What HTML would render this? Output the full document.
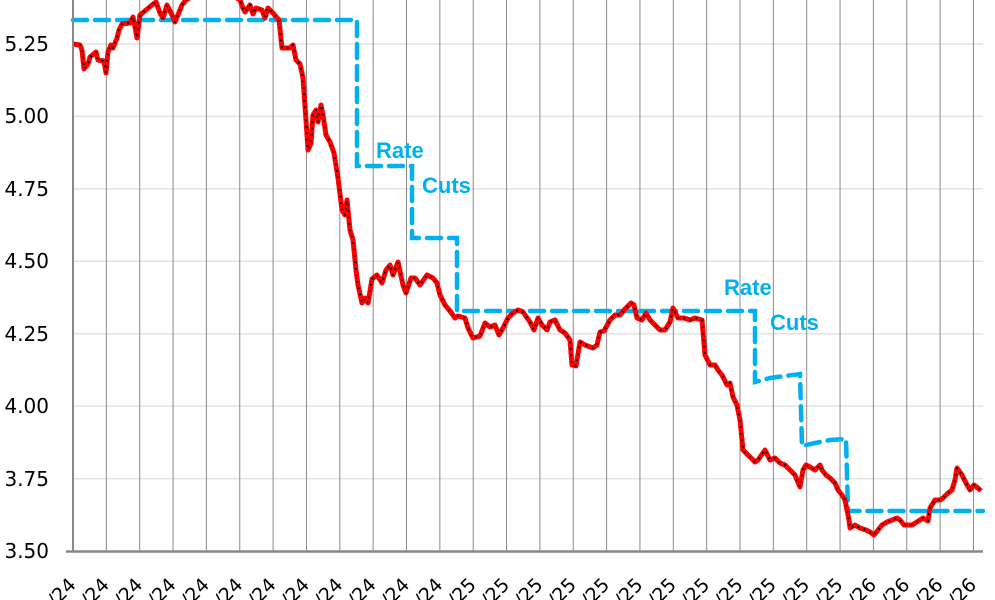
<!DOCTYPE html>
<html><head><meta charset="utf-8"><style>
html,body{margin:0;padding:0;background:#fff;width:995px;height:600px;overflow:hidden;}
svg{display:block;overflow:hidden;font-family:"DejaVu Sans","Liberation Sans",sans-serif;}
</style></head><body>
<svg width="995" height="600" viewBox="0 0 995 600" xmlns="http://www.w3.org/2000/svg">
<defs><clipPath id="cp"><rect x="0" y="0" width="995" height="600"/></clipPath></defs>
<g stroke="#e3e3e3" stroke-width="1.5">
<line x1="73" y1="44" x2="983" y2="44"/><line x1="73" y1="116.4" x2="983" y2="116.4"/><line x1="73" y1="188.9" x2="983" y2="188.9"/><line x1="73" y1="261.3" x2="983" y2="261.3"/><line x1="73" y1="333.7" x2="983" y2="333.7"/><line x1="73" y1="406.1" x2="983" y2="406.1"/><line x1="73" y1="478.6" x2="983" y2="478.6"/>
</g>
<g stroke="#8a8a8a" stroke-width="1" id="vg"></g>
<g font-size="20" fill="#000" text-anchor="end">
<text x="49" y="51">5.25</text><text x="49" y="123">5.00</text><text x="49" y="196">4.75</text><text x="49" y="268">4.50</text><text x="49" y="341">4.25</text><text x="49" y="413">4.00</text><text x="49" y="486">3.75</text><text x="49" y="558">3.50</text>
</g>
<g clip-path="url(#cp)"><g id="xl" font-size="19" fill="#000" text-anchor="end"></g></g>
<polyline fill="none" stroke="#00B0F0" stroke-width="4.5" stroke-dasharray="14 8" stroke-linecap="round"
points="73,20 357,20 357,166 412,166 412,238 457,238 457,311 755,311 755,382 770,378 785,376 800,374 802,446 815,443 830,440 846,439 848,511 983,511"/>
<g font-size="22" font-weight="bold" fill="#00B0F0" style="font-family:'Liberation Sans',sans-serif">
<text x="376" y="158">Rate</text><text x="422" y="193">Cuts</text>
<text x="724" y="295">Rate</text><text x="770" y="330">Cuts</text>
</g>
<g id="rg" clip-path="url(#cp)"></g>
<line x1="73" y1="0" x2="73" y2="552" stroke="#888" stroke-width="2"/>
<line x1="66" y1="551.5" x2="983" y2="551.5" stroke="#888" stroke-width="2.5"/>
<script>
var ns='http://www.w3.org/2000/svg';
var pts="73,44 80,45 82,50 84,69 88,64 90,57 96,52 98,60 104,61 106,73 108,52 111,45 113,48 117,38 119,30 122,24 130,23 133,17 135,27 137,38 140,15 146,10 152,5 156,2 160,13 163,18 167,5 172,15 175,22 180,10 182,5 186,0 195,-5 210,-8 225,-6 235,-3 240,0 243,8 245,12 250,5 253,14 256,8 262,10 265,18 268,8 272,12 279,20 282,48 290,48 293,45 296,60 300,64 303,78 306,120 308,150 311,143 313,115 316,110 318,122 321,105 323,115 326,135 330,142 334,153 338,178 342,210 345,215 347,200 350,230 353,240 356,270 358,285 362,303 365,298 368,303 372,279 377,275 382,283 386,270 390,265 393,275 398,262 403,285 406,293 411,278 415,278 420,285 427,275 433,278 437,283 440,295 445,305 450,311 455,318 458,316 465,318 468,328 473,338 480,336 485,323 490,327 495,325 499,335 503,328 508,318 513,313 518,310 523,312 530,322 534,330 538,318 542,325 547,330 550,322 555,320 560,330 565,333 570,340 572,365 576,366 580,342 585,345 593,348 597,345 600,332 604,331 610,320 615,315 620,315 625,309 631,303 634,305 637,318 642,320 646,313 650,320 655,325 660,330 665,330 670,322 673,308 678,318 684,318 690,320 695,318 702,320 705,355 710,365 715,365 718,370 722,375 727,385 730,383 733,397 737,405 740,420 743,450 748,455 755,462 758,460 765,450 770,460 775,458 780,463 785,465 790,470 795,475 800,487 803,470 806,465 810,467 815,470 820,465 822,470 826,475 830,478 835,483 838,490 842,495 845,500 849,520 850,528 855,525 860,528 866,530 870,532 874,535 878,530 882,525 887,522 892,520 897,518 900,520 904,525 907,525 912,525 917,522 923,518 928,521 930,508 935,500 940,500 943,498 947,494 952,490 955,480 957,468 962,475 966,483 970,490 974,485 978,488 981,491";
var rg=document.getElementById('rg');
function pl(c,w,d){var p=document.createElementNS(ns,'polyline');p.setAttribute('points',pts);p.setAttribute('fill','none');p.setAttribute('stroke',c);p.setAttribute('stroke-width',w);p.setAttribute('stroke-linejoin','round');if(d)p.setAttribute('stroke-dasharray',d);rg.appendChild(p);}
pl('#ff0000',5);pl('#000',2,'1.5 5');
var vg=document.getElementById('vg'),xl=document.getElementById('xl');
for(var i=0;i<28;i++){var x=73+33.35*i;
if(i>0){var l=document.createElementNS(ns,'line');l.setAttribute('x1',x);l.setAttribute('x2',x);l.setAttribute('y1',0);l.setAttribute('y2',551);vg.appendChild(l);}
var yr=i<12?'24':(i<24?'25':'26');
var t=document.createElementNS(ns,'text');t.setAttribute('transform','translate('+(x+4)+',586) rotate(-45)');t.textContent='/'+yr;xl.appendChild(t);}
</script>
</svg>
</body></html>
